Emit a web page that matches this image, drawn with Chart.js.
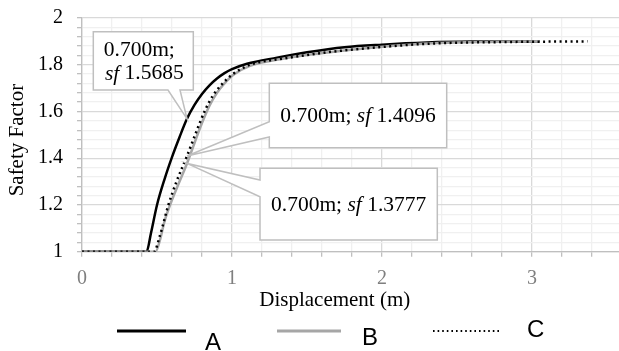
<!DOCTYPE html>
<html><head><meta charset="utf-8">
<script src="https://cdn.jsdelivr.net/npm/chart.js@4/dist/chart.umd.min.js"></script>
<style>html,body{margin:0;padding:0;background:#fff}#wrap{width:619px;height:351px}</style>
</head><body><div id="wrap"><canvas id="c" width="619" height="351"></canvas></div>
<script>
// ---- data ----
const seriesNames = ['A', 'B', 'C'];
const dispA = [0, 0.43, 0.46, 0.5, 0.55, 0.6, 0.65, 0.7, 0.75, 0.8, 0.85, 0.9, 0.95, 1.0, 1.1, 1.3, 1.5, 1.75, 2.0, 2.3, 2.6, 3.05];
const sfA   = [1, 1, 1.08, 1.2, 1.31, 1.405, 1.49, 1.5685, 1.628, 1.675, 1.712, 1.741, 1.764, 1.781, 1.804, 1.83, 1.853, 1.875, 1.886, 1.895, 1.899, 1.9];
const dispB = [0, 0.49, 0.52, 0.55, 0.587, 0.65, 0.7, 0.75, 0.79, 0.85, 0.9, 0.95, 1.01, 1.12, 1.34, 1.55, 2.0, 2.34, 2.79, 3.05];
const sfB   = [1, 1, 1.05, 1.13, 1.2, 1.3, 1.3777, 1.465, 1.535, 1.625, 1.68, 1.72, 1.757, 1.795, 1.826, 1.846, 1.877, 1.892, 1.898, 1.9];
const dispC = [0, 0.48, 0.52, 0.576, 0.63, 0.7, 0.76, 0.82, 0.875, 0.95, 1.01, 1.12, 1.34, 1.55, 1.67, 2.0, 2.34, 2.79, 3.37];
const sfC   = [1, 1, 1.07, 1.2, 1.3, 1.4096, 1.51, 1.605, 1.67, 1.728, 1.762, 1.8, 1.826, 1.846, 1.856, 1.876, 1.891, 1.897, 1.9];
const xTickLabels = ['0', '1', '2', '3'];
const yTickLabels = ['1', '1.2', '1.4', '1.6', '1.8', '2'];
const calloutDisp = [0.7, 0.7, 0.7];
const calloutSF = [1.5685, 1.4096, 1.3777];
const xTitle = 'Displacement (m)';
const yTitle = 'Safety Factor';

const SERIF = '"Liberation Serif", "Times New Roman", serif';
const SANS = '"Liberation Sans", Arial, sans-serif';

function pts(xs, ys) { return xs.map((x, i) => ({ x: x, y: ys[i] })); }
const near = (a, b) => Math.abs(a - b) < 1e-6;
const isMult = (v, s) => near(v / s, Math.round(v / s));

// ---- callouts plugin ----
const calloutPlugin = {
  id: 'callouts',
  afterDatasetsDraw(chart, args, opts) {
    const ctx = chart.ctx, xs = chart.scales.x, ys = chart.scales.y;
    opts.boxes.forEach((bx, i) => {
      const tx = xs.getPixelForValue(calloutDisp[i]);
      const ty = ys.getPixelForValue(calloutSF[i]);
      const { l, t, r, b } = bx;
      ctx.save();
      ctx.beginPath();
      if (bx.side === 'bottom') {
        ctx.moveTo(l, t); ctx.lineTo(r, t); ctx.lineTo(r, b);
        ctx.lineTo(bx.b2, b); ctx.lineTo(tx, ty); ctx.lineTo(bx.b1, b);
        ctx.lineTo(l, b); ctx.closePath();
      } else {
        ctx.moveTo(l, t); ctx.lineTo(r, t); ctx.lineTo(r, b); ctx.lineTo(l, b);
        ctx.lineTo(l, bx.b2); ctx.lineTo(tx, ty); ctx.lineTo(l, bx.b1);
        ctx.closePath();
      }
      ctx.fillStyle = '#ffffff'; ctx.fill();
      ctx.strokeStyle = '#bfbfbf'; ctx.lineWidth = 1.5; ctx.lineJoin = 'miter'; ctx.stroke();
      const head = calloutDisp[i].toFixed(3) + 'm;';
      const val = ' ' + calloutSF[i].toFixed(4);
      const fs = opts.fontSize;
      const normal = fs + 'px ' + SERIF, italic = 'italic ' + fs + 'px ' + SERIF;
      ctx.fillStyle = '#000'; ctx.textBaseline = 'middle';
      const drawParts = (parts, cx, cy) => {
        let w = 0;
        parts.forEach(p => { ctx.font = p[1] ? italic : normal; w += ctx.measureText(p[0]).width; });
        let x = cx - w / 2;
        parts.forEach(p => { ctx.font = p[1] ? italic : normal; ctx.textAlign = 'left'; ctx.fillText(p[0], x, cy); x += ctx.measureText(p[0]).width; });
      };
      const cx = (l + r) / 2, cy = (t + b) / 2;
      if (bx.twoLines) {
        drawParts([[head, false]], cx - 4, cy - 10);
        drawParts([['sf', true], [val, false]], cx + 1, cy + 13);
      } else {
        drawParts([[head + ' ', false], ['sf', true], [val, false]], cx, cy + 1);
      }
      ctx.restore();
    });
  }
};

// ---- legend plugin ----
const legendPlugin = {
  id: 'bottomLegend',
  afterDraw(chart, args, opts) {
    const ctx = chart.ctx;
    chart.data.datasets.forEach((ds, i) => {
      const it = opts.items[i];
      ctx.save();
      ctx.beginPath();
      ctx.strokeStyle = ds.borderColor;
      ctx.lineWidth = it.w;
      ctx.setLineDash(it.dash || []);
      ctx.moveTo(it.x1, opts.lineY); ctx.lineTo(it.x2, opts.lineY);
      ctx.stroke();
      ctx.setLineDash([]);
      ctx.fillStyle = '#000';
      ctx.font = opts.fontSize + 'px ' + SANS;
      ctx.textAlign = 'left'; ctx.textBaseline = 'alphabetic';
      ctx.fillText(ds.label, it.tx, it.ty);
      ctx.restore();
    });
  }
};

const majorGrid = '#d9d9d9', minorGrid = '#f0f0f0';

new Chart(document.getElementById('c'), {
  type: 'line',
  data: {
    datasets: [
      { label: seriesNames[0], data: pts(dispA, sfA), borderColor: '#000000', borderWidth: 2.5, order: 2 },
      { label: seriesNames[1], data: pts(dispB, sfB), borderColor: '#a6a6a6', borderWidth: 2.5, order: 1 },
      { label: seriesNames[2], data: pts(dispC, sfC), borderColor: '#000000', borderWidth: 2.5, borderDash: [2, 3.5], order: 0 }
    ]
  },
  options: {
    responsive: false,
    animation: false,
    devicePixelRatio: 1,
    elements: { point: { radius: 0 }, line: { cubicInterpolationMode: 'monotone', fill: false, borderCapStyle: 'butt' } },
    layout: { padding: { top: 18, right: 0, bottom: 38, left: 0 } },
    plugins: {
      legend: { display: false },
      tooltip: { enabled: false },
      callouts: {
        fontSize: 21.5,
        boxes: [
          { l: 93.3, t: 31.7, r: 193.3, b: 90, side: 'bottom', b1: 168, b2: 180, twoLines: true },
          { l: 269.3, t: 83.3, r: 446.7, b: 147.7, side: 'left', b1: 121.7, b2: 137 },
          { l: 260, t: 168.3, r: 437.3, b: 240, side: 'left', b1: 180, b2: 196.7 }
        ]
      },
      bottomLegend: {
        lineY: 331, fontSize: 24,
        items: [
          { x1: 117, x2: 186, w: 3, tx: 205, ty: 350 },
          { x1: 277, x2: 341, w: 3, tx: 362, ty: 345 },
          { x1: 433, x2: 500, w: 2, dash: [1.6, 3], tx: 527, ty: 337 }
        ]
      }
    },
    scales: {
      x: {
        type: 'linear', min: 0, max: 3.58,
        afterBuildTicks: s => { s.ticks = []; for (let i = 0; i <= 17; i++) s.ticks.push({ value: +(i * 0.2).toFixed(1) }); },
        afterFit: s => { s.height = 313 - 251.7; s.paddingLeft = 0; s.paddingRight = 0; },
        grid: {
          color: c => isMult(c.tick.value, 1) ? majorGrid : minorGrid,
          tickColor: '#bfbfbf',
          tickLength: 5, lineWidth: 1.3
        },
        border: { color: '#bfbfbf', width: 1.3 },
        ticks: {
          color: '#7f7f7f', font: { family: SERIF, size: 20 }, padding: 10, maxRotation: 0, autoSkip: false,
          callback: v => { const l = xTickLabels.find(s => near(parseFloat(s), v)); return l === undefined ? '' : l; }
        },
        title: { display: true, text: xTitle + '\u00a0\u00a0\u00a0\u00a0\u00a0\u00a0', color: '#000', font: { family: SERIF, size: 21 }, padding: { top: 0, bottom: 0 } }
      },
      y: {
        type: 'linear', min: 1, max: 2,
        afterBuildTicks: s => { s.ticks = []; for (let i = 0; i <= 25; i++) s.ticks.push({ value: +(1 + i * 0.04).toFixed(2) }); },
        afterFit: s => { s.width = 82; s.paddingTop = 0; s.paddingBottom = 0; },
        grid: {
          color: c => isMult(c.tick.value, 0.2) ? majorGrid : minorGrid,
          tickColor: '#bfbfbf',
          tickLength: 5, lineWidth: 1.3
        },
        border: { color: '#bfbfbf', width: 1.3 },
        ticks: {
          color: '#000', font: { family: SERIF, size: 20 }, padding: 14, autoSkip: false,
          callback: v => { const l = yTickLabels.find(s => near(parseFloat(s), v)); return l === undefined ? '' : l; }
        },
        title: { display: true, text: yTitle + '\u00a0\u00a0', color: '#000', font: { family: SERIF, size: 21 }, padding: { top: 5, bottom: 0 } }
      }
    }
  },
  plugins: [calloutPlugin, legendPlugin]
});
</script>
</body></html>
